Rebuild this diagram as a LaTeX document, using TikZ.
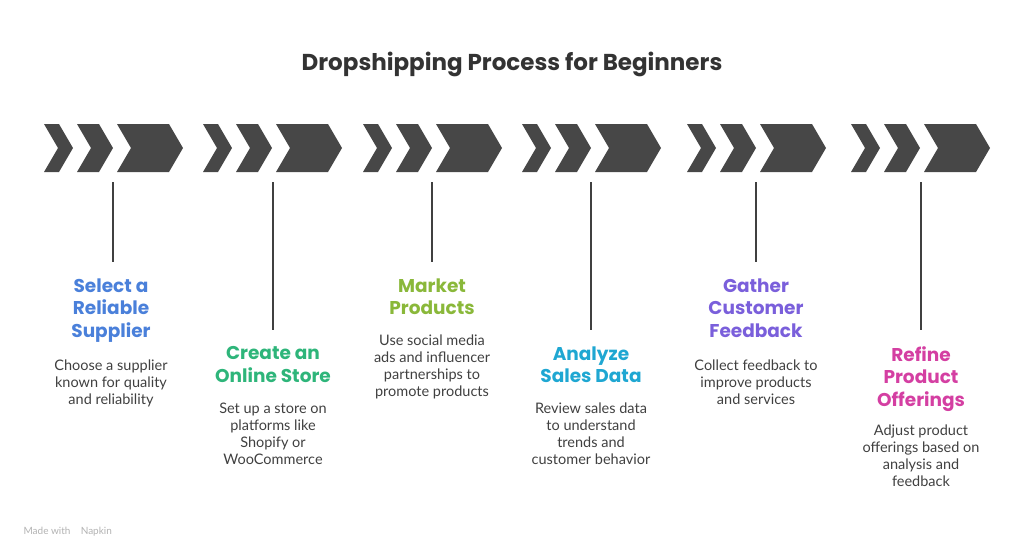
\documentclass[tikz,border=0pt]{standalone}
\usepackage{fontspec}
\setmainfont{Lato}
\newfontfamily\ttlfont{Poppins}
\begin{document}
\begin{tikzpicture}[x=1pt,y=-1pt,
  chev/.style={fill=black!72,draw=none},
  vline/.style={draw=black!75,line width=1.2pt},
  ttl/.style={font=\ttlfont\bfseries\fontsize{18.5}{22.5}\selectfont,align=center,anchor=north},
  desc/.style={font=\fontsize{14.5}{17}\selectfont,align=center,anchor=north,text=black!75}]
\useasboundingbox (0,0) rectangle (1024,558);
\node[font=\ttlfont\bfseries\fontsize{23}{26}\selectfont,text=black!80] (head) at (512,64) {Dropshipping Process for Beginners};
\newcommand{\chevp}[3]{\fill[chev] (#1,124)--(#2,124)--(#2+14,148)--(#2,172)--(#1,172)--(#1+14,148)--cycle;}
\foreach \g/\i in {44/1,203/2,363/3,522/4,687/5,851/6}{
  \chevp{\g}{\g+15}{}
  \chevp{\g+33}{\g+55}{}
  \chevp{\g+73}{\g+125}{}
  \coordinate (top\i) at (\g+69,182);
}
\foreach \i/\x/\e in {1/113/262,2/273/330,3/432/262,4/591/330,5/756/262,6/921/330}{
  \coordinate (t\i) at (\x,182); \coordinate (b\i) at (\x,\e);
  \draw[vline] (t\i)--(b\i);
}
\definecolor{c1}{HTML}{4A80DA}\definecolor{c2}{HTML}{2EB57A}\definecolor{c3}{HTML}{8AB83A}
\definecolor{c4}{HTML}{1FA7D2}\definecolor{c5}{HTML}{7A5FDB}\definecolor{c6}{HTML}{D43FA2}
\node[ttl,text=c1] (n1) at (111,275) {Select a\\Reliable\\Supplier};
\node[desc] (d1) at (111,356) {Choose a supplier\\known for quality\\and reliability};
\node[ttl,text=c2] (n2) at (273,343) {Create an\\Online Store};
\node[desc] (d2) at (273,399) {Set up a store on\\platforms like\\Shopify or\\WooCommerce};
\node[ttl,text=c3] (n3) at (432,275) {Market\\Products};
\node[desc] (d3) at (432,331) {Use social media\\ads and influencer\\partnerships to\\promote products};
\node[ttl,text=c4] (n4) at (591,343) {Analyze\\Sales Data};
\node[desc] (d4) at (591,399) {Review sales data\\to understand\\trends and\\customer behavior};
\node[ttl,text=c5] (n5) at (756,275) {Gather\\Customer\\Feedback};
\node[desc] (d5) at (756,356) {Collect feedback to\\improve products\\and services};
\node[ttl,text=c6] (n6) at (921,343) {Refine\\Product\\Offerings};
\node[desc] (d6) at (921,421) {Adjust product\\offerings based on\\analysis and\\feedback};
\node[anchor=west,font=\fontsize{10}{11}\selectfont,text=black!30] (mw) at (20,532) {Made with \ \ \ Napkin};
\end{tikzpicture}
\end{document}
